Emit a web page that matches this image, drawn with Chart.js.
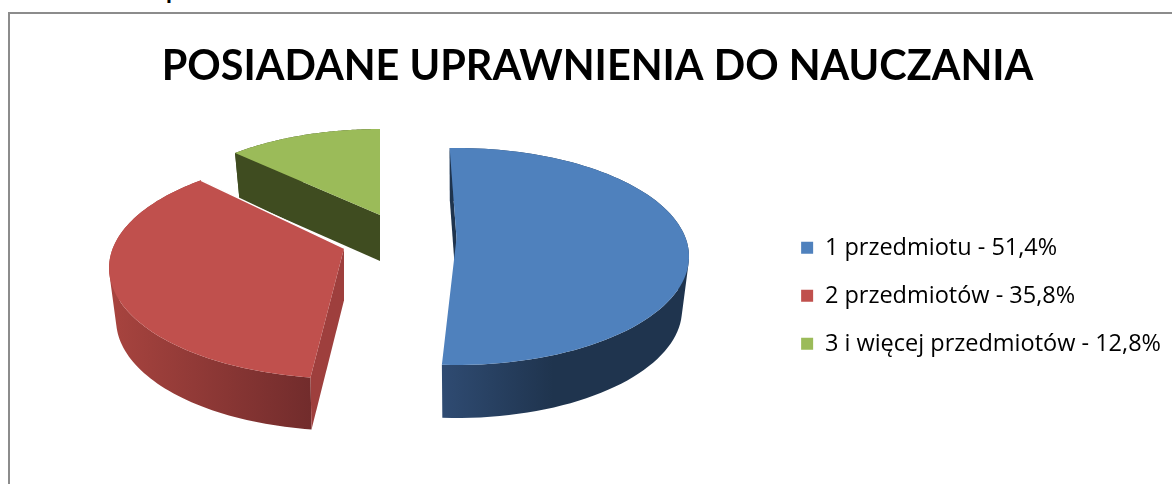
<!DOCTYPE html>
<html>
<head>
<meta charset="utf-8">
<script src="https://cdn.jsdelivr.net/npm/chart.js@4"></script>
<style>
html, body { margin: 0; padding: 0; background: #fff; overflow: hidden; }
#wrap { position: absolute; left: 0; top: 0; width: 1172px; height: 484px; overflow: hidden; }
#frame { position: absolute; left: 8px; top: 12px; width: 1200px; height: 500px; border: 2px solid #8c8c8c; box-sizing: border-box; }
#cutText { position: absolute; left: 166px; top: -22px; font: bold 24px/24px Lato; color: #000; }
canvas { position: absolute; left: 0; top: 0; }
</style>
</head>
<body>
<div id="wrap">
    <span id="cutText">p</span>
    <div id="frame"></div>
    <canvas id="pieChart" width="1172" height="484"></canvas>
</div>
<script>
// Chart data
const chartTitle = 'POSIADANE UPRAWNIENIA DO NAUCZANIA';
const categories = ['1 przedmiotu', '2 przedmiotów', '3 i więcej przedmiotów'];
const shares = [51.4, 35.8, 12.8];
const shareLabels = ['51,4%', '35,8%', '12,8%'];

const topColors = ['#4f81bd', '#c0504d', '#9bbb59'];

// How each exploded slice is seen, relative to the arc the chart laid out:
// shift of the ellipse, squash of the radius, tilt, perspective, height
const sliceViews = [
    { dx: 56.2, dy: -39.3, sx: 1.2625, sy: 0.589, e: -0.17, rot: -2, depth: 53, wallFrom: '#2f4b72', wallTo: '#1f344e', wallEnd: 0.45, face: '#1f344e' },
    { dx: -56.3, dy: -27.8, sx: 1.276, sy: 0.600, e: -0.18, rot: 1.8, depth: 52, wallFrom: '#a8443f', wallTo: '#722c2c', wallEnd: 1, face: '#9e3f3d', halo: true },
    { dx: -20.3, dy: -66.8, sx: 1.211, sy: 0.543, e: -0.14, rot: 0, depth: 46, wallFrom: '#3f4c20', wallTo: '#3f4c20', wallEnd: 1, face: '#3f4c20' }
];

// Projects a point of the flat pie on to the tilted plane of a slice
function project(arc, view, angle, radius, scaleX, shiftY) {
    const X = Math.cos(angle) * radius;
    const Y = Math.sin(angle) * radius;
    const w = 1 + view.e * Y;
    const r = arc.outerRadius;
    return {
        x: arc.x + view.dx + r * view.sx * scaleX * X * Math.sqrt(1 - view.e * view.e) / w,
        y: arc.y + view.dy + r * view.sy * (Y + view.e) / w + shiftY
    };
}

function rimPoints(arc, view, start, end, scaleX, shiftY) {
    const pts = [];
    const steps = 90;
    for (let i = 0; i <= steps; i++) {
        pts.push(project(arc, view, start + (end - start) * i / steps, 1, scaleX, shiftY));
    }
    return pts;
}

function fillPolygon(ctx, pts, fill) {
    ctx.beginPath();
    pts.forEach((p, i) => i ? ctx.lineTo(p.x, p.y) : ctx.moveTo(p.x, p.y));
    ctx.closePath();
    ctx.fillStyle = fill;
    ctx.fill();
}

// One path of quads between the two rims, so the side has no seams
function fillWall(ctx, top, bottom, fill) {
    ctx.beginPath();
    for (let i = 0; i < top.length - 1; i++) {
        // keep every quad wound the same way
        const a = top[i], b = top[i + 1], c = bottom[i + 1], d = bottom[i];
        const area = (b.x - a.x) * (d.y - a.y) - (b.y - a.y) * (d.x - a.x);
        ctx.moveTo(a.x, a.y);
        if (area >= 0) {
            ctx.lineTo(b.x, b.y); ctx.lineTo(c.x, c.y); ctx.lineTo(d.x, d.y);
        } else {
            ctx.lineTo(d.x, d.y); ctx.lineTo(c.x, c.y); ctx.lineTo(b.x, b.y);
        }
        ctx.closePath();
    }
    ctx.fillStyle = fill;
    ctx.fill();
}

// Pie has no 3D mode, so the arcs laid out by the chart are drawn as solid slices
const solidSlices = {
    id: 'solidSlices',
    beforeDatasetDraw(chart) {
        const ctx = chart.ctx;
        const arcs = chart.getDatasetMeta(0).data;
        [2, 1, 0].forEach(i => {
            const arc = arcs[i];
            const view = sliceViews[i];
            const rot = view.rot * Math.PI / 180;
            const start = arc.startAngle + rot;
            const end = arc.endAngle + rot;
            const top = rimPoints(arc, view, start, end, 1, 0);
            const bottom = rimPoints(arc, view, start, end, 0.97, view.depth);
            const apex = project(arc, view, 0, 0, 1, 0);
            const apexLow = project(arc, view, 0, 0, 1, view.depth);

            // outer wall
            const xs = top.map(p => p.x);
            const minX = Math.min(...xs);
            const maxX = Math.max(...xs);
            const grad = ctx.createLinearGradient(minX, 0, minX + (maxX - minX) * view.wallEnd, 0);
            grad.addColorStop(0, view.wallFrom);
            grad.addColorStop(1, view.wallTo);
            fillWall(ctx, top, bottom, grad);

            // the cut face at the start of the slice is the one that shows
            fillPolygon(ctx, [apex, top[0], bottom[0], apexLow], view.face);

            // top surface
            fillPolygon(ctx, [apex].concat(top), arc.options.backgroundColor);
            if (view.halo) {
                ctx.strokeStyle = '#ffffff';
                ctx.lineWidth = 1.5;
                ctx.beginPath();
                ctx.moveTo(top[top.length - 1].x, top[top.length - 1].y);
                ctx.lineTo(apex.x, apex.y);
                ctx.stroke();
            }
        });
        return false;
    }
};

new Chart(document.getElementById('pieChart'), {
    type: 'pie',
    data: {
        labels: categories.map((name, i) => name + ' - ' + shareLabels[i]),
        datasets: [{
            data: shares,
            backgroundColor: topColors,
            borderWidth: 0
        }]
    },
    options: {
        responsive: false,
        animation: false,
        layout: { padding: { top: 42, right: 1, bottom: 4, left: 24 } },
        plugins: {
            title: {
                display: true,
                text: chartTitle,
                color: '#000000',
                font: { family: 'Lato', size: 41.4, weight: 'bold' },
                padding: { top: 0, bottom: 20 }
            },
            legend: {
                position: 'right',
                fullSize: false,
                labels: {
                    color: '#000000',
                    boxWidth: 12,
                    boxHeight: 12,
                    padding: 24.5,
                    font: { family: 'Open Sans', size: 23.5 }
                }
            },
            tooltip: { enabled: false }
        }
    },
    plugins: [solidSlices]
});
</script>
</body>
</html>
